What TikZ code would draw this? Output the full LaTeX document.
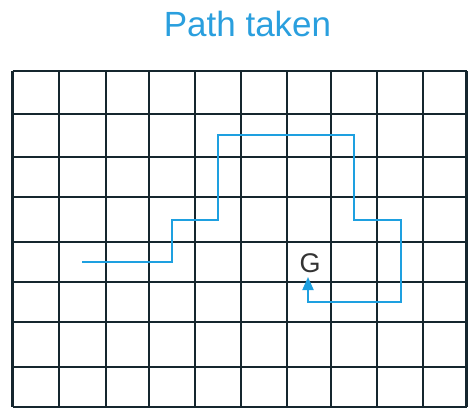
\documentclass[tikz,border=0pt]{standalone}
\usepackage{fontspec}
\setmainfont{Liberation Sans}
\usetikzlibrary{arrows.meta}
\definecolor{gridc}{HTML}{15262E}
\definecolor{pathc}{HTML}{1EA0E0}
\definecolor{titlec}{HTML}{2A9FDE}
\begin{document}
\begin{tikzpicture}[x=1pt,y=1pt,
  gridline/.style={draw=gridc,line width=2.2pt},
  route/.style={draw=pathc,line width=2pt},
  title/.style={text=titlec,font=\fontsize{35}{40}\selectfont,inner sep=0pt},
  goal/.style={text=black!80,font=\fontsize{27}{30}\selectfont,inner sep=0pt}]
\useasboundingbox (0,0) rectangle (468,408);
% grid
\foreach \x in {12.5,59,106,149,195,241,287,331,377,423,466.5}
  \draw[gridline] (\x,1) -- (\x,337);
\foreach \y in {337,294,251,211,166,126,86,41,1}
  \draw[gridline] (12.5,\y) -- (466.5,\y);
% title
\node[title] (title) at (247.5,384) {Path taken};
% goal
\node[goal] (G) at (310,145) {G};
% path
\coordinate (start) at (82,146);
\coordinate (tip) at (308,131);
\draw[route,-{Triangle[length=13pt,width=11pt]}] (start) -- (172,146) -- (172,188) -- (218,188) -- (218,273)
  -- (354,273) -- (354,188) -- (401,188) -- (401,106) -- (308,106) -- (tip);
\end{tikzpicture}
\end{document}
